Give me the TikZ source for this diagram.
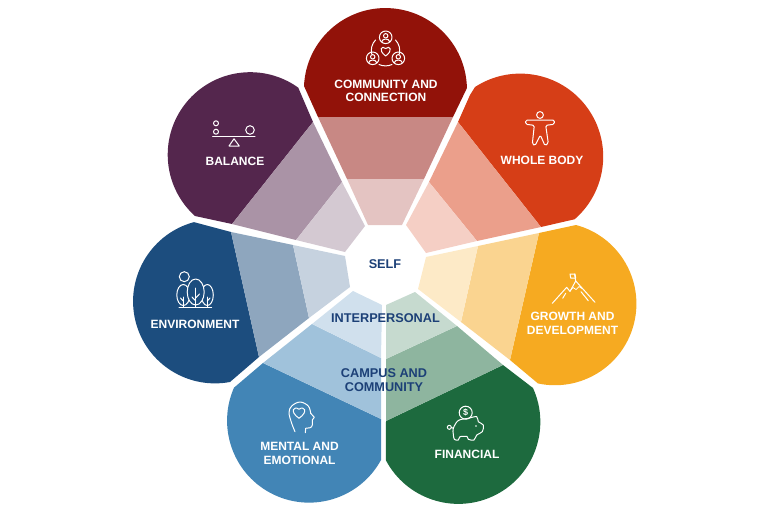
\documentclass[tikz,border=0pt]{standalone}
\usepackage{fontspec}
\setmainfont{Liberation Sans}
\definecolor{communityred}{HTML}{921209}
\definecolor{bodyred}{HTML}{D63E17}
\definecolor{growthgold}{HTML}{F6AA21}
\definecolor{financegreen}{HTML}{1D6A3E}
\definecolor{mentalblue}{HTML}{4285B6}
\definecolor{envblue}{HTML}{1C4D7E}
\definecolor{balancepurple}{HTML}{54264D}
\definecolor{corenavy}{HTML}{1C4077}
\tikzset{
  petaltext/.style={white, align=center, inner sep=0pt, font=\fontsize{12}{13.6}\selectfont\bfseries},
  coretext/.style={corenavy, align=center, inner sep=0pt, font=\fontsize{12.7}{13.9}\selectfont\bfseries},
  icon/.style={white, line width=1pt, line join=round, line cap=round},
}
\begin{document}
\begin{tikzpicture}[x=1pt,y=-1pt]
\useasboundingbox (0,0) rectangle (768,511);

% petals, from the top going clockwise
\fill [communityred] (304,86) arc (182.5:359:81.5) -- (453,117) -- (318,117) -- cycle;
\fill [communityred!50] (318,117) -- (453,117) -- (424,179) -- (347,179) -- cycle;
\fill [communityred!25] (347,179) -- (424,179) -- (402,225) -- (368,225) -- cycle;

\fill [bodyred] (475,87) arc (237:409:83) -- (541,227) -- (458,122) -- (470,95) -- cycle;
\fill [bodyred!50] (458,122) -- (541,227) -- (477,241) -- (429,182) -- cycle;
\fill [bodyred!25] (429,182) -- (477,241) -- (426,253) -- (406,225) -- cycle;

\fill [growthgold] (576,225) arc (-75:102:81.5) -- (510,360) -- (539,233) -- cycle;
\fill [growthgold!50] (539,233) -- (510,360) -- (461,322) -- (478,246) -- cycle;
\fill [growthgold!25] (478,246) -- (461,322) -- (418,289) -- (426,257) -- cycle;

\fill [financegreen] (533,388) arc (-24.4:152.2:82) -- (386,421) -- (503,365) -- cycle;
\fill [financegreen!50] (386,421) -- (503,365) -- (457,326) -- (386,359) -- cycle;
\fill [financegreen!25] (386,359) -- (457,326) -- (415,292) -- (386,305) -- cycle;

\fill [mentalblue] (381,460) arc (28.7:203.7:82) -- (263,363) -- (381,419) -- cycle;
\fill [mentalblue!50] (263,363) -- (381,419) -- (381,358) -- (312,324) -- cycle;
\fill [mentalblue!25] (312,324) -- (381,358) -- (382,305) -- (353,291) -- cycle;

\fill [envblue] (230,382) arc (79.5:255.1:82) -- (231,232) -- (259,357) -- cycle;
\fill [envblue!50] (231,232) -- (259,357) -- (309,318) -- (293,245) -- cycle;
\fill [envblue!25] (293,245) -- (309,318) -- (350,287) -- (345,256) -- cycle;

\fill [balancepurple] (195,216) arc (132:305.6:82.5) -- (313,122) -- (232,224) -- cycle;
\fill [balancepurple!50] (313,122) -- (232,224) -- (296,240) -- (342,182) -- cycle;
\fill [balancepurple!25] (342,182) -- (296,240) -- (345,252) -- (365,226) -- cycle;

% community icon
\foreach \px/\py in {385.7/37.3, 372.7/58.3, 398.3/58.3} {
  \draw [icon] (\px,\py) circle [radius=6.3];
  \draw [icon] (\px,\py-1.5) circle [radius=2.2];
  \draw [icon] (\px-4,\py+4.5) .. controls (\px-3.5,\py+0.8) and (\px+3.5,\py+0.8) .. (\px+4,\py+4.5);
}
\draw [icon] (375.5,40) arc (224:165:15);
\draw [icon] (395.5,40) arc (-44:15:15);
\draw [icon] (379,64.5) arc (114:66:16);
\draw [icon, shift={(385.7,51)}] (0,5) .. controls (-8,-1) and (-4,-6) .. (0,-2.5) .. controls (4,-6) and (8,-1) .. (0,5);

% whole body icon
\draw [icon] (540,115) circle [radius=3.4];
\draw [icon, rounded corners=1.5pt] (525.7,120) -- (554.3,120) -- (554.3,124.3) -- (545.7,125.3) -- (548.3,143.3) -- (545,145.7) -- (540.3,135) -- (535,145.7) -- (532.3,144) -- (534.3,125.3) -- (525.7,124.3) -- cycle;

% mountain icon
\draw [icon] (552.3,303.3) -- (566.7,287.3) -- (570,291.5) -- (575.7,281) -- (595,302.3);
\draw [icon, line width=0.7pt] (570,290.5) -- (573,287.5) -- (576,289.5) -- (579,286.5) -- (582,288.5);
\draw [icon] (575.7,281) -- (574.5,274);
\draw [icon] (570,274) -- (575,274) -- (575.7,278) -- (570.7,278) -- cycle;
\draw [icon] (581,291.7) -- (588.3,300.7);
\draw [icon] (565.7,293.3) -- (562.7,298.3);

% piggy bank icon
\draw [icon] (465.7,412.7) circle [radius=6.5];
\node [white, inner sep=0pt, font=\fontsize{9}{9}\selectfont\bfseries] (coin) at (465.7,412.7) {\$};
\draw [icon] plot [smooth cycle, tension=0.55] coordinates {(453.3,428.3) (458.3,420.5) (468.3,418.3) (476.7,416.7) (478.3,421.7) (483.3,425) (482.3,431.7) (476.7,435) (474,440) (468.3,439.3) (467,436.5) (460,436.7) (458.3,440) (454.3,439.3) (453.3,434)};
\draw [icon] (449.3,427.3) circle [radius=2];
\draw [icon] (451.3,427.5) -- (453.3,428.3);
\fill [white] (476,426) circle [radius=0.9];

% head icon
\draw [icon] plot [smooth, tension=0.6] coordinates {(295,431.7) (291.7,423.3) (289,412.7) (291.7,406) (300,402) (308.3,406) (310.7,413.3)};
\draw [icon] (310.7,413.3) -- (314.3,417.3) -- (312.3,420) -- (312.3,425) .. controls (312.3,428) and (308,428.3) .. (305.7,428.3) -- (305.3,432.7);
\draw [icon, shift={(299,412.3)}] (0,6) .. controls (-10,-1) and (-5,-7) .. (0,-3) .. controls (5,-7) and (10,-1) .. (0,6);

% tree icon
\draw [icon] (184.3,276.7) circle [radius=5];
\draw [icon] (183.3,295) ellipse [x radius=6.5, y radius=10.5];
\draw [icon] (207.3,295) ellipse [x radius=6, y radius=10.5];
\draw [icon, fill=envblue] (195.7,292) ellipse [x radius=8.5, y radius=13];
\draw [icon] (179,307.3) -- (211.7,307.3);
\draw [icon] (195.7,307.3) -- (195.7,288);
\draw [icon] (195.7,298) -- (199.5,294);
\draw [icon] (195.7,301) -- (192,297);
\draw [icon] (183.3,307.3) -- (183.3,297);
\draw [icon] (183.3,301) -- (180.5,298);
\draw [icon] (207.3,307.3) -- (207.3,297);
\draw [icon] (207.3,301) -- (210,298);

% seesaw icon
\draw [icon] (216,123.3) circle [radius=2.5];
\draw [icon] (216,131.7) circle [radius=2.5];
\draw [icon] (250,130) circle [radius=4.3];
\draw [icon] (212.7,136.7) -- (255,136.7);
\draw [icon] (234,138.8) -- (229,146) -- (239.3,146) -- cycle;

% labels
\node [petaltext] (community) at (386,91) {COMMUNITY AND\\CONNECTION};
\node [petaltext] (wholebody) at (542,160) {WHOLE BODY};
\node [petaltext] (growth) at (572.5,323.5) {GROWTH AND\\DEVELOPMENT};
\node [petaltext] (financial) at (467,454) {FINANCIAL};
\node [petaltext] (mental) at (299.5,453.5) {MENTAL AND\\EMOTIONAL};
\node [petaltext] (environment) at (195,324) {ENVIRONMENT};
\node [petaltext] (balance) at (235,161) {BALANCE};

\node [coretext] (self) at (385,264) {SELF};
\node [coretext] (interpersonal) at (385.5,318) {INTERPERSONAL};
\node [coretext] (campus) at (384,380) {CAMPUS AND\\COMMUNITY};
\end{tikzpicture}
\end{document}
